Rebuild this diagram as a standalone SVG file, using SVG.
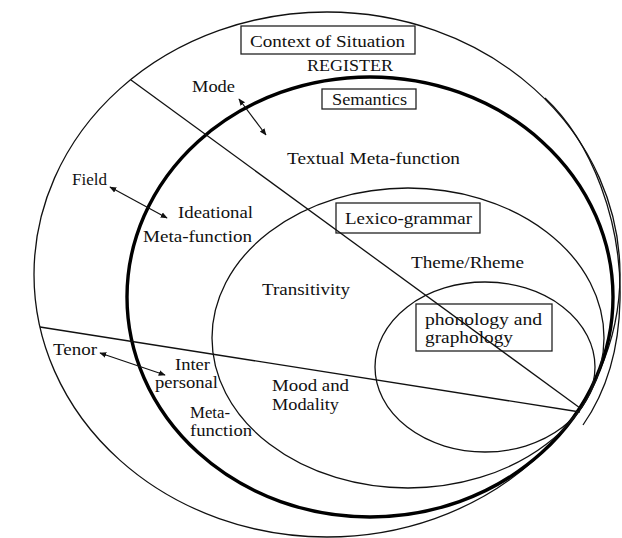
<svg xmlns="http://www.w3.org/2000/svg" width="622" height="538" viewBox="0 0 622 538">
<defs>
<style>
.c{fill:none;stroke:#111;stroke-width:1.3}
.thick{fill:none;stroke:#000;stroke-width:3.4}
.box{fill:#fff;stroke:#222;stroke-width:1.3}
.t{font-family:"Liberation Serif","DejaVu Serif",serif;font-size:16px;fill:#111}
.ln{stroke:#111;stroke-width:1.3;fill:none}
.ar{stroke:#111;stroke-width:1.2;fill:none;marker-start:url(#ah);marker-end:url(#ah)}
</style>
<marker id="ah" viewBox="0 0 10 10" refX="9" refY="5" markerWidth="7" markerHeight="7" markerUnits="userSpaceOnUse" orient="auto-start-reverse">
<path d="M0,1 L10,5 L0,9 Z" fill="#111"/>
</marker>
</defs>
<rect width="622" height="538" fill="#fff"/>
<g id="context-of-situation">
<ellipse class="c" cx="327" cy="274.5" rx="293" ry="262.5"/>
<path class="c" d="M545,98 C592,142 622,222 620,300 C619,352 606,392 583,425"/>
<rect class="box" x="241" y="26" width="174" height="28"/>
<text class="t" x="250" y="47" textLength="155" lengthAdjust="spacingAndGlyphs">Context of Situation</text>
<text class="t" x="307" y="71" textLength="86" lengthAdjust="spacingAndGlyphs">REGISTER</text>
<text class="t" x="192" y="92" textLength="43" lengthAdjust="spacingAndGlyphs">Mode</text>
<text class="t" x="72" y="185" textLength="35" lengthAdjust="spacingAndGlyphs">Field</text>
<text class="t" x="53" y="355" textLength="44" lengthAdjust="spacingAndGlyphs">Tenor</text>
</g>
<g id="semantics">
<ellipse class="thick" cx="370" cy="297" rx="243" ry="220"/>
<rect class="box" x="322" y="89" width="94" height="20"/>
<text class="t" x="332" y="105" textLength="75" lengthAdjust="spacingAndGlyphs">Semantics</text>
<text class="t" x="287" y="164" textLength="173" lengthAdjust="spacingAndGlyphs">Textual Meta-function</text>
<text class="t" x="178" y="218" textLength="75" lengthAdjust="spacingAndGlyphs">Ideational</text>
<text class="t" x="143" y="242" textLength="109" lengthAdjust="spacingAndGlyphs">Meta-function</text>
<text class="t" x="175" y="370" textLength="35" lengthAdjust="spacingAndGlyphs">Inter</text>
<text class="t" x="155" y="388" textLength="63" lengthAdjust="spacingAndGlyphs">personal</text>
<text class="t" x="190" y="418" textLength="40" lengthAdjust="spacingAndGlyphs">Meta-</text>
<text class="t" x="190" y="436" textLength="62" lengthAdjust="spacingAndGlyphs">function</text>
</g>
<g id="lexico-grammar">
<ellipse class="c" cx="408" cy="338" rx="196" ry="150"/>
<rect class="box" x="336" y="203" width="144" height="30"/>
<text class="t" x="345" y="224" textLength="127" lengthAdjust="spacingAndGlyphs">Lexico-grammar</text>
<text class="t" x="411" y="268" textLength="113" lengthAdjust="spacingAndGlyphs">Theme/Rheme</text>
<text class="t" x="262" y="295" textLength="88" lengthAdjust="spacingAndGlyphs">Transitivity</text>
<text class="t" x="272" y="391" textLength="77" lengthAdjust="spacingAndGlyphs">Mood and</text>
<text class="t" x="272" y="410" textLength="67" lengthAdjust="spacingAndGlyphs">Modality</text>
</g>
<g id="phonology-graphology">
<ellipse class="c" cx="485" cy="367" rx="110" ry="85"/>
<rect x="416" y="304" width="136" height="47" fill="none" stroke="#222" stroke-width="1.3"/>
<text class="t" x="425" y="325" textLength="117" lengthAdjust="spacingAndGlyphs">phonology and</text>
<text class="t" x="425" y="343" textLength="88" lengthAdjust="spacingAndGlyphs">graphology</text>
</g>
<g id="connectors">
<line class="ln" x1="131" y1="80" x2="580" y2="408"/>
<line class="ln" x1="40" y1="327" x2="580" y2="412"/>
<line class="ar" x1="239" y1="99" x2="266" y2="135"/>
<line class="ar" x1="110" y1="187" x2="167" y2="218"/>
<line class="ar" x1="100" y1="353" x2="165" y2="375"/>
</g>
</svg>
